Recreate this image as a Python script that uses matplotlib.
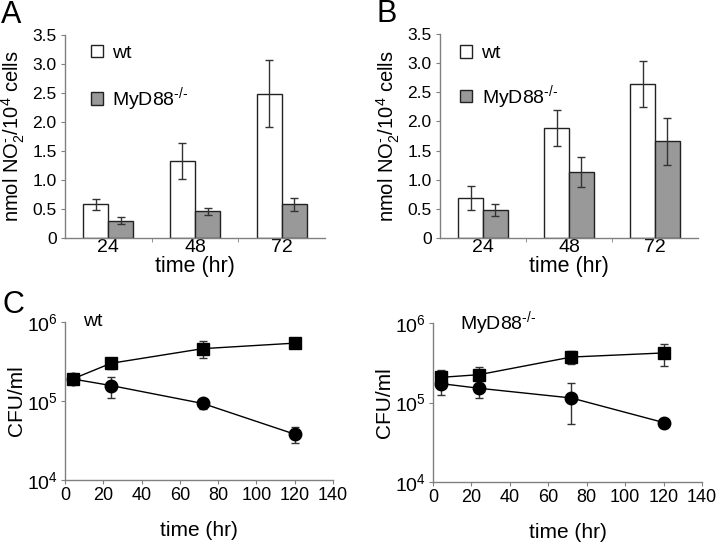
"""
Nitrite production and bacterial growth, wt vs MyD88-/-
"""

import matplotlib
matplotlib.use('Agg')
import matplotlib.pyplot as plt
from matplotlib.ticker import FixedLocator, NullFormatter

plt.rcParams['font.family'] = ['Liberation Sans', 'DejaVu Sans']
plt.rcParams['mathtext.fontset'] = 'custom'
plt.rcParams['mathtext.rm'] = 'Liberation Sans'
plt.rcParams['mathtext.it'] = 'Liberation Sans'

# Panel A / B bar data
times = ['24', '48', '72']
a_wt = [0.58, 1.32, 2.49]
a_wt_err = [0.09, 0.31, 0.58]
a_ko = [0.30, 0.46, 0.58]
a_ko_err = [0.06, 0.06, 0.11]

b_wt = [0.69, 1.88, 2.64]
b_wt_err = [0.21, 0.31, 0.40]
b_ko = [0.48, 1.13, 1.66]
b_ko_err = [0.10, 0.26, 0.40]

# Panel C growth data
c_hours = [4, 24, 72, 120]
c_wt_sq = [1.9e5, 3.0e5, 4.6e5, 5.4e5]
c_wt_sq_err = [0.0, 0.45e5, 1.1e5, 0.0]
c_wt_ci = [1.9e5, 1.57e5, 9.3e4, 3.8e4]
c_wt_ci_err = [0.0, 0.47e5, 1.3e4, 0.9e4]
c_ko_sq = [2.07e5, 2.24e5, 3.73e5, 4.2e5]
c_ko_sq_err = [0.5e5, 0.55e5, 0.7e5, 1.3e5]
c_ko_ci = [1.73e5, 1.51e5, 1.14e5, 5.6e4]
c_ko_ci_err = [0.48e5, 0.36e5, 0.6e5, 0.0]

SPINE = '#808080'
GRAY = '#999999'
KO = 'MyD88$^{\\text{-/-}}$'
W, H = 720, 544


def px_axes(fig, left, top, right, bottom):
    return fig.add_axes([left / W, 1 - bottom / H, (right - left) / W, (bottom - top) / H])


def style_axes(ax):
    for s in ['top', 'right']:
        ax.spines[s].set_visible(False)
    for s in ['left', 'bottom']:
        ax.spines[s].set_color(SPINE)
        ax.spines[s].set_linewidth(1.0)
    ax.tick_params(which='both', color=SPINE, length=3)


def bar_panel(ax, wt, wt_err, ko, ko_err, letter, leg_xy, leg_space):
    x = range(len(times))
    width = 0.29
    ekw = dict(ecolor='#333333', elinewidth=1, capsize=3, capthick=1)
    ax.bar([i - width / 2 for i in x], wt, width, yerr=wt_err, color='white',
           edgecolor='#222222', linewidth=1.0, label='wt', error_kw=ekw)
    ax.bar([i + width / 2 for i in x], ko, width, yerr=ko_err, color=GRAY,
           edgecolor='#222222', linewidth=1.0, label=KO, error_kw=ekw)
    style_axes(ax)
    ax.set_xlim(-0.5, 2.5)
    ax.set_ylim(0, 3.5)
    ax.set_yticks([0, 0.5, 1.0, 1.5, 2.0, 2.5, 3.0, 3.5])
    ax.set_yticklabels(['0', '0.5', '1.0', '1.5', '2.0', '2.5', '3.0', '3.5'])
    ax.tick_params(axis='y', labelsize=12.5, pad=3)
    ax.set_xticks(list(x))
    ax.set_xticklabels(times, fontsize=14)
    ax.tick_params(axis='x', which='major', length=0, pad=1)
    ax.xaxis.set_minor_locator(FixedLocator([0.5, 1.5]))
    ax.xaxis.set_minor_formatter(NullFormatter())
    ax.set_xlabel('time (hr)', fontsize=15.5, labelpad=0)
    ax.set_ylabel('nmol NO$_2^{\\text{-}}$/10$^4$ cells', fontsize=14.5, labelpad=4)
    ax.legend(loc='upper left', bbox_to_anchor=leg_xy, frameon=False,
              fontsize=14, handlelength=0.6, handleheight=0.6,
              labelspacing=leg_space, handletextpad=0.5,
              borderpad=0, borderaxespad=0)
    ax.text(-0.245, 1.17, letter, transform=ax.transAxes, fontsize=22, va='top')


def growth_panel(ax, sq, sq_err, ci, ci_err, title, tx):
    ax.errorbar(c_hours, sq, yerr=sq_err, color='black', marker='s',
                markersize=8, linewidth=1, ecolor='#333333', elinewidth=1,
                capsize=3, capthick=1)
    ax.errorbar(c_hours, ci, yerr=ci_err, color='black', marker='o',
                markersize=9, linewidth=1, ecolor='#333333', elinewidth=1,
                capsize=3, capthick=1)
    ax.set_yscale('log')
    ax.set_ylim(1e4, 1e6)
    ax.set_xlim(0, 140)
    ax.set_xticks(range(0, 141, 20))
    ax.set_yticks([1e4, 1e5, 1e6])
    ax.yaxis.set_minor_locator(FixedLocator([]))
    style_axes(ax)
    ax.tick_params(axis='x', labelsize=13, pad=2)
    ax.tick_params(axis='y', labelsize=14, pad=2)
    ax.set_xlabel('time (hr)', fontsize=15, labelpad=12)
    ax.set_ylabel('CFU/ml', fontsize=15, labelpad=1)
    ax.text(tx, 1.0, title, transform=ax.transAxes, fontsize=14, va='center')


fig = plt.figure(figsize=(7.2, 5.44), dpi=100)

ax_a = px_axes(fig, 65, 35, 325, 238)
bar_panel(ax_a, a_wt, a_wt_err, a_ko, a_ko_err, 'A', (0.10, 0.95), 1.2)

ax_b = px_axes(fig, 440, 34, 698, 238)
bar_panel(ax_b, b_wt, b_wt_err, b_ko, b_ko_err, 'B', (0.078, 0.945), 1.05)

ax_c1 = px_axes(fig, 65, 322, 333, 480)
growth_panel(ax_c1, c_wt_sq, c_wt_sq_err, c_wt_ci, c_wt_ci_err, 'wt', 0.067)
ax_c1.text(-0.235, 1.2, 'C', transform=ax_c1.transAxes, fontsize=22, va='top')

ax_c2 = px_axes(fig, 433, 323, 702, 482)
growth_panel(ax_c2, c_ko_sq, c_ko_sq_err, c_ko_ci, c_ko_ci_err, KO, 0.1)

plt.savefig('out.png', dpi=100)
plt.close()
